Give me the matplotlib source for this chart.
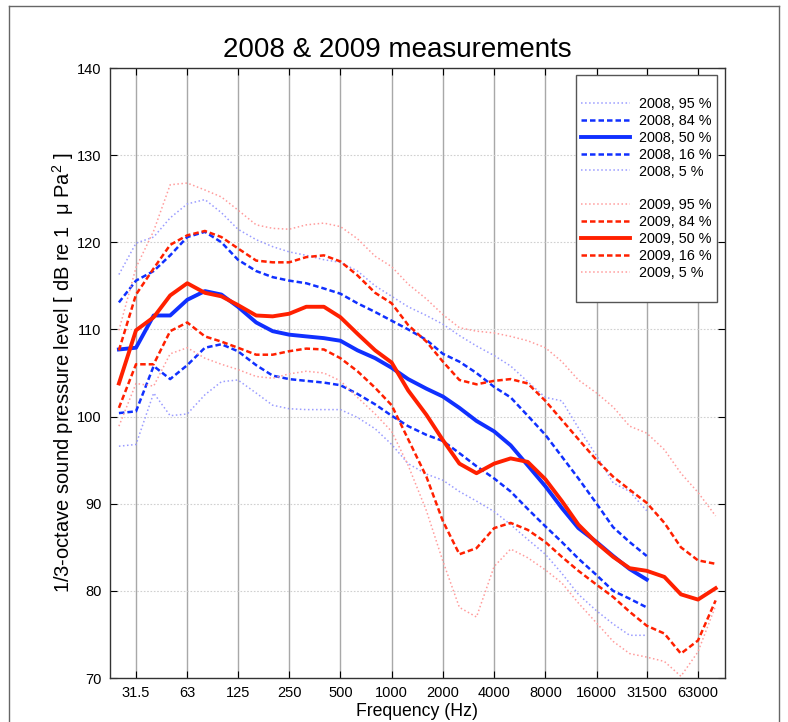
import matplotlib
matplotlib.use("Agg")
import matplotlib.pyplot as plt
from matplotlib.lines import Line2D

plt.rcParams["font.family"] = ["Liberation Sans", "DejaVu Sans"]
plt.rcParams["mathtext.fontset"] = "custom"
plt.rcParams["mathtext.rm"] = "Liberation Sans"
plt.rcParams["mathtext.it"] = "Liberation Sans:italic"

# 1/3-octave band centre frequencies (Hz)
freq_2009 = [25, 31.5, 40, 50, 63, 80, 100, 125, 160, 200, 250, 315, 400, 500,
             630, 800, 1000, 1250, 1600, 2000, 2500, 3150, 4000, 5000, 6300,
             8000, 10000, 12500, 16000, 20000, 25000, 31500, 40000, 50000,
             63000, 80000]
freq_2008 = freq_2009[:32]

# 2008 percentiles (dB re 1 uPa^2)
p95_2008 = [116.3, 119.9, 120.6, 122.8, 124.4, 124.9, 123.4, 121.5, 120.3, 119.5,
            118.9, 118.5, 118.0, 117.7, 116.7, 115.0, 113.8, 112.6, 111.6, 110.6,
            109.3, 108.1, 107.0, 105.8, 104.0, 102.2, 101.8, 98.7, 95.5, 92.4,
            91.4, 89.2]
p84_2008 = [113.1, 115.6, 116.7, 118.5, 120.6, 121.2, 120.0, 118.0, 116.7, 116.0,
            115.6, 115.3, 114.7, 114.1, 113.0, 112.0, 111.0, 110.0, 108.8, 107.2,
            106.3, 105.0, 103.4, 102.2, 100.1, 97.9, 95.4, 92.9, 90.0, 87.3,
            85.6, 84.0]
p50_2008 = [107.7, 107.9, 111.6, 111.6, 113.4, 114.4, 114.0, 112.6, 110.8, 109.8,
            109.4, 109.2, 109.0, 108.7, 107.6, 106.7, 105.6, 104.3, 103.2, 102.3,
            101.0, 99.5, 98.3, 96.7, 94.4, 92.0, 89.5, 87.2, 85.6, 84.0,
            82.5, 81.3]
p16_2008 = [100.4, 100.6, 105.8, 104.3, 105.9, 107.9, 108.3, 107.5, 105.9, 104.7,
            104.3, 104.1, 103.9, 103.6, 102.6, 101.4, 100.1, 98.9, 97.9, 97.2,
            95.8, 94.3, 92.9, 91.4, 89.4, 87.4, 85.6, 83.7, 81.8, 80.0,
            79.1, 78.1]
p5_2008 = [96.6, 96.8, 102.7, 100.1, 100.3, 102.5, 104.0, 104.2, 102.7, 101.3,
           100.9, 100.8, 100.8, 100.8, 99.9, 98.6, 96.8, 94.6, 93.4, 92.7,
           91.4, 90.3, 89.1, 87.6, 85.9, 84.2, 82.0, 79.6, 77.7, 76.2,
           74.9, 74.9]

# 2009 percentiles
p95_2009 = [109.9, 117.1, 121.3, 126.6, 126.8, 126.0, 125.2, 123.7, 122.0, 121.6,
            121.5, 122.0, 122.2, 121.8, 120.4, 118.4, 117.2, 115.2, 113.5, 111.7,
            110.2, 109.8, 109.6, 109.2, 108.7, 107.9, 106.3, 104.2, 102.7, 101.1,
            98.9, 98.1, 96.2, 93.5, 91.3, 88.6]
p84_2009 = [107.6, 114.0, 117.0, 119.7, 120.8, 121.3, 120.6, 119.3, 117.9, 117.7,
            117.7, 118.3, 118.5, 117.8, 116.2, 114.2, 113.0, 110.5, 108.6, 106.3,
            104.2, 103.7, 104.1, 104.3, 103.8, 101.8, 99.6, 97.4, 95.0, 93.1,
            91.6, 90.1, 87.8, 85.0, 83.5, 83.1]
p50_2009 = [103.8, 109.9, 111.4, 113.9, 115.3, 114.2, 113.8, 112.8, 111.6, 111.5,
            111.8, 112.6, 112.6, 111.4, 109.5, 107.6, 106.2, 103.0, 100.2, 97.3,
            94.6, 93.5, 94.6, 95.2, 94.8, 92.8, 90.3, 87.6, 85.5, 83.9,
            82.6, 82.3, 81.6, 79.6, 79.0, 80.3]
p16_2009 = [101.0, 106.0, 106.0, 109.8, 110.8, 109.2, 108.6, 107.9, 107.1, 107.1,
            107.5, 107.8, 107.7, 106.7, 105.2, 103.3, 101.3, 97.4, 93.1, 88.0,
            84.2, 84.9, 87.2, 87.8, 87.0, 85.6, 83.9, 82.3, 80.7, 79.3,
            77.6, 76.0, 75.1, 72.8, 74.3, 78.9]
p5_2009 = [98.9, 103.8, 103.5, 107.2, 107.9, 106.7, 106.0, 105.4, 104.6, 104.4,
           104.9, 105.2, 105.0, 104.1, 102.2, 100.3, 98.3, 94.4, 89.2, 83.4,
           78.1, 77.0, 82.8, 84.8, 83.8, 82.4, 80.9, 78.6, 76.3, 74.2,
           72.8, 72.4, 71.9, 70.2, 73.0, 78.3]

tick_freqs = [31.5, 63, 125, 250, 500, 1000, 2000, 4000, 8000, 16000, 31500, 63000]
tick_labels = ["31.5", "63", "125", "250", "500", "1000", "2000", "4000", "8000",
               "16000", "31500", "63000"]

blue, lblue = "#1030ff", "#9a9cff"
red, lred = "#ff2000", "#ff9c9c"

fig = plt.figure(figsize=(7.88, 7.22), dpi=100)
ax = fig.add_axes([110 / 788, 44 / 722, 615 / 788, 610 / 722])

l1, = ax.plot(freq_2008, p95_2008, color=lblue, lw=1.1, ls=":", label="2008, 95 %")
l2, = ax.plot(freq_2008, p84_2008, color=blue, lw=1.8, dashes=(2.2, 1.2), label="2008, 84 %")
l3, = ax.plot(freq_2008, p50_2008, color=blue, lw=2.8, label="2008, 50 %")
l4, = ax.plot(freq_2008, p16_2008, color=blue, lw=1.8, dashes=(2.2, 1.2), label="2008, 16 %")
l5, = ax.plot(freq_2008, p5_2008, color=lblue, lw=1.1, ls=":", label="2008, 5 %")
l6, = ax.plot(freq_2009, p95_2009, color=lred, lw=1.1, ls=":", label="2009, 95 %")
l7, = ax.plot(freq_2009, p84_2009, color=red, lw=1.8, dashes=(2.2, 1.2), label="2009, 84 %")
l8, = ax.plot(freq_2009, p50_2009, color=red, lw=2.8, label="2009, 50 %")
l9, = ax.plot(freq_2009, p16_2009, color=red, lw=1.8, dashes=(2.2, 1.2), label="2009, 16 %")
l10, = ax.plot(freq_2009, p5_2009, color=lred, lw=1.1, ls=":", label="2009, 5 %")

ax.set_xscale("log")
ax.set_xlim(22.16, 90800)
ax.set_ylim(70, 140)
ax.set_xticks(tick_freqs)
ax.set_xticklabels(tick_labels)
ax.minorticks_off()
ax.set_yticks(range(70, 141, 10))
ax.tick_params(direction="in", length=5, top=True, right=True, labelsize=10.5,
               colors="black", pad=6)

ax.grid(axis="x", color="#a8a8a8", lw=1.0, ls="-")
ax.grid(axis="y", color="#d0d0d0", lw=0.8, ls=(0, (1.5, 1.5)))
ax.set_axisbelow(True)
for s in ax.spines.values():
    s.set_linewidth(1.0)
    s.set_color("#333333")

ax.set_title("2008 & 2009 measurements", fontsize=20, pad=8, x=0.467)
ax.set_xlabel("Frequency (Hz)", fontsize=12.7, labelpad=2)
ax.set_ylabel("1/3-octave sound pressure level [ dB re 1  μ Pa$^2$ ]",
              fontsize=14.5, labelpad=1)

blank = Line2D([], [], color="none", label=" ")
handles = [blank, l1, l2, l3, l4, l5, blank, l6, l7, l8, l9, l10, blank]
leg = ax.legend(handles=handles, loc="upper right", bbox_to_anchor=(0.9865, 0.9885),
                borderaxespad=0, fontsize=10.4, labelspacing=0.2, borderpad=0.35,
                handlelength=3.4, handletextpad=0.6, fancybox=False, framealpha=1,
                edgecolor="#555555")
leg.get_frame().set_linewidth(1.0)

# outer frame of the figure window
fig.add_artist(Line2D([9 / 788, 9 / 788], [0, 1 - 6 / 722], color="#666666", lw=1))
fig.add_artist(Line2D([9 / 788, 779 / 788], [1 - 6 / 722, 1 - 6 / 722], color="#666666", lw=1))
fig.add_artist(Line2D([779 / 788, 779 / 788], [0, 1 - 6 / 722], color="#666666", lw=1))

fig.savefig("out.png", dpi=100)
